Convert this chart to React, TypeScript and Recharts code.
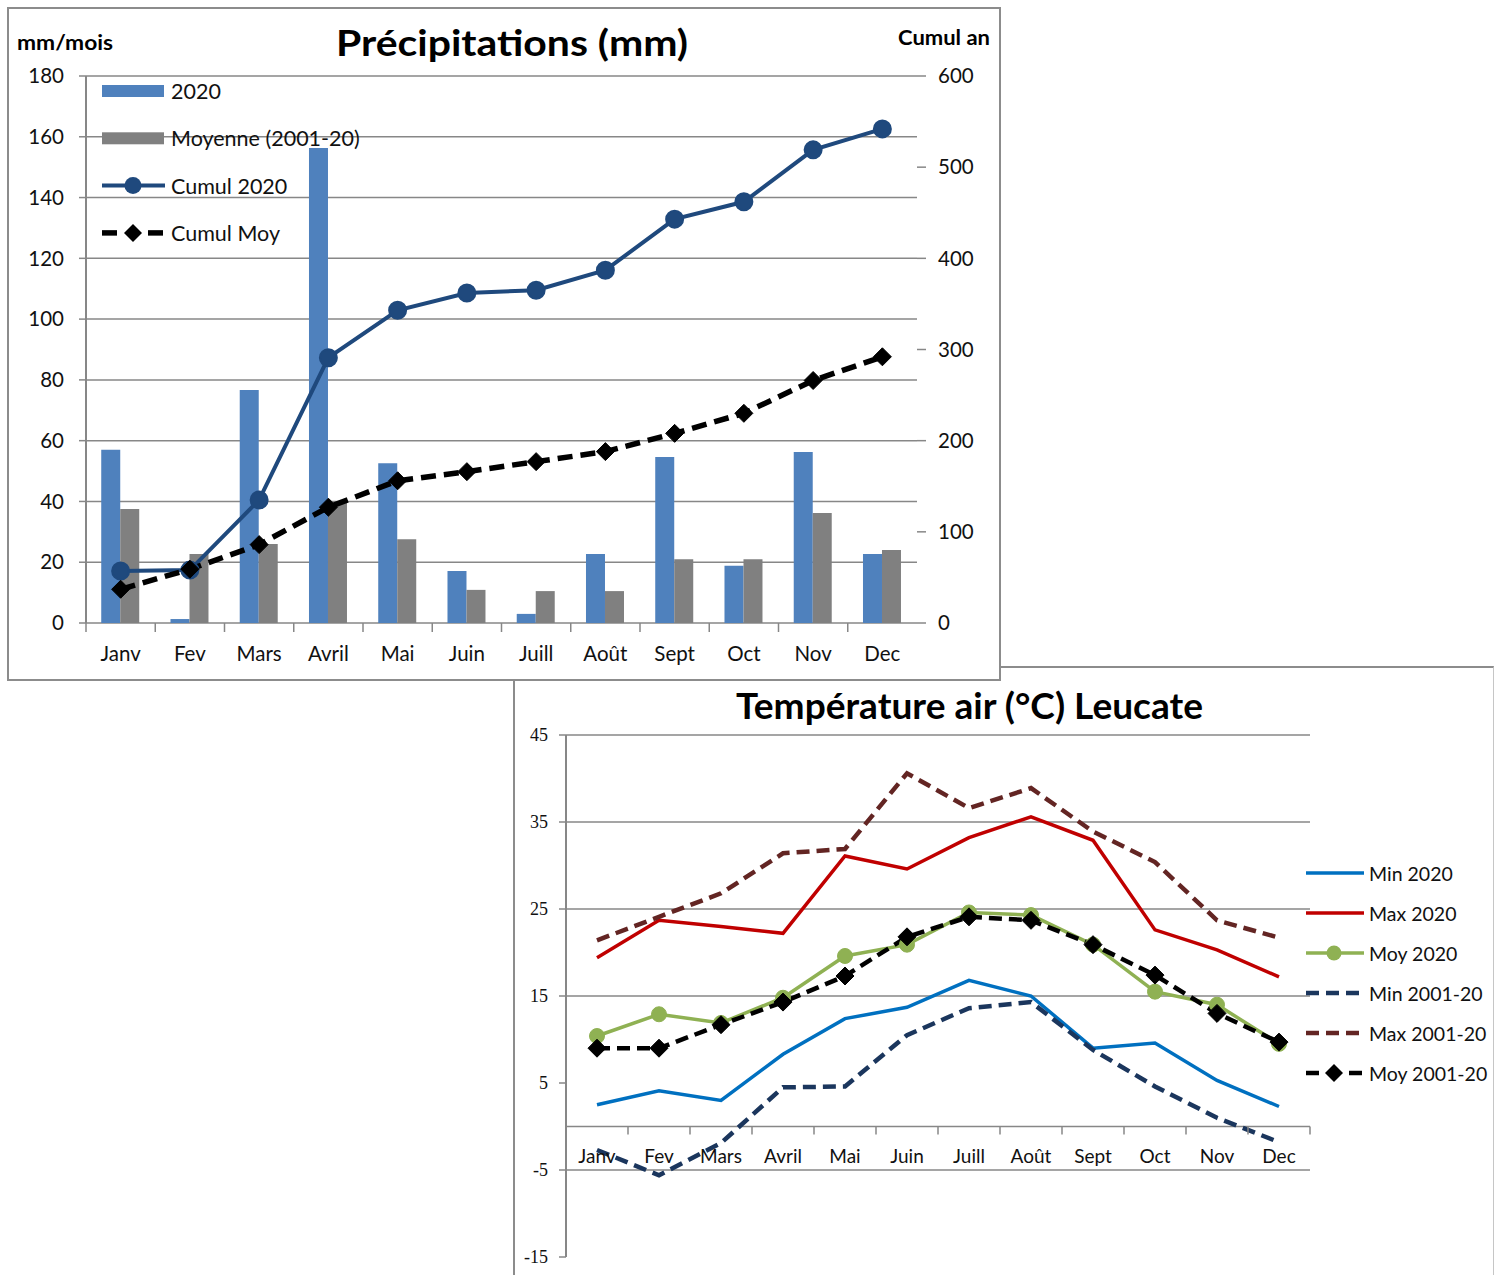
import React from "react";
import { ComposedChart, Bar, Line, XAxis, YAxis, CartesianGrid, ReferenceLine } from "recharts";

// ---- data ----
const MONTHS = ["Janv", "Fev", "Mars", "Avril", "Mai", "Juin", "Juill", "Août", "Sept", "Oct", "Nov", "Dec"];

// précipitations (mm/mois) et cumuls (mm)
const PLUIE_2020 = [57, 1.3, 76.7, 156.3, 52.6, 17.1, 3, 22.7, 54.6, 18.8, 56.3, 22.7];
const PLUIE_MOY = [37.5, 22.7, 26, 39.5, 27.6, 10.9, 10.5, 10.5, 21, 21, 36.2, 24];
const CUMUL_2020 = [57, 58, 135, 291, 343, 362, 365, 387, 443, 462, 519, 542];
const CUMUL_MOY = [37, 59, 86, 127, 156, 166, 177, 188, 208, 230, 266, 292];
const PLUIE_TICKS = [0, 20, 40, 60, 80, 100, 120, 140, 160, 180];
const CUMUL_TICKS = [0, 100, 200, 300, 400, 500, 600];

// températures (°C)
const MIN_2020 = [2.5, 4.1, 3.0, 8.3, 12.4, 13.7, 16.8, 15.0, 9.0, 9.6, 5.3, 2.3];
const MAX_2020 = [19.4, 23.7, 23.0, 22.2, 31.1, 29.6, 33.2, 35.6, 32.9, 22.6, 20.3, 17.2];
const MOY_2020 = [10.4, 12.9, 11.9, 14.8, 19.6, 20.9, 24.6, 24.3, 20.9, 15.5, 14.0, 9.5];
const MIN_0120 = [-2.7, -5.6, -1.9, 4.5, 4.6, 10.5, 13.6, 14.3, 8.8, 4.6, 1.0, -1.8];
const MAX_0120 = [21.4, 24.1, 26.8, 31.4, 31.9, 40.6, 36.6, 38.9, 33.9, 30.4, 23.7, 21.7];
const MOY_0120 = [9.0, 9.0, 11.7, 14.3, 17.3, 21.8, 24.1, 23.7, 20.9, 17.4, 13.0, 9.7];
const TEMP_TICKS = [-15, -5, 5, 15, 25, 35, 45];
const TEMP_GRID = [45, 35, 25, 15, -5];

const pluieData = MONTHS.map((m, i) => ({
  month: m,
  p2020: PLUIE_2020[i],
  pMoy: PLUIE_MOY[i],
  c2020: CUMUL_2020[i],
  cMoy: CUMUL_MOY[i],
}));

const tempData = MONTHS.map((m, i) => ({
  month: m,
  min2020: MIN_2020[i],
  max2020: MAX_2020[i],
  moy2020: MOY_2020[i],
  min0120: MIN_0120[i],
  max0120: MAX_0120[i],
  moy0120: MOY_0120[i],
}));

// ---- style ----
const FONT = "Lato, 'Open Sans', sans-serif";
const GRID = "#878787";

const TEMP_SERIES = [
  { key: "min2020", name: "Min 2020", color: "#0070C0", dash: undefined, marker: "none" },
  { key: "max2020", name: "Max 2020", color: "#C00000", dash: undefined, marker: "none" },
  { key: "moy2020", name: "Moy 2020", color: "#8FB153", dash: undefined, marker: "circle" },
  { key: "min0120", name: "Min 2001-20", color: "#1B365D", dash: "13 7", marker: "none" },
  { key: "max0120", name: "Max 2001-20", color: "#632523", dash: "13 7", marker: "none" },
  { key: "moy0120", name: "Moy 2001-20", color: "#000000", dash: "13 7", marker: "diamond" },
];

// precipitation chart geometry (inside its frame)
const P_W = 990;
const P_H = 670;
const P_TOP = 67;
const P_LEFT_W = 77;
const P_RIGHT_W = 82;
const P_XAXIS_H = 56;
const P_BAND = (P_W - P_LEFT_W - P_RIGHT_W) / MONTHS.length;

// temperature chart geometry
const T_W = 978;
const T_H = 607;
const T_TOP = 67;
const T_LEFT_W = 51;
const T_RIGHT = 183;
const T_XAXIS_H = 18;
const T_MIN = -15;
const T_MAX = 45;
const T_PLOT_H = T_H - T_TOP - T_XAXIS_H;
const T_BAND = (T_W - T_LEFT_W - T_RIGHT) / MONTHS.length;

function diamondPath(cx: number, cy: number, s: number) {
  return `M${cx} ${cy - s} L${cx + s} ${cy} L${cx} ${cy + s} L${cx - s} ${cy} Z`;
}

function DiamondDot(props: any) {
  const { cx, cy } = props;
  if (cx == null || cy == null) return null;
  return <path d={diamondPath(cx, cy, 9)} fill="#000" stroke="#000" strokeWidth={1} />;
}

function PluieMonthTick(props: any) {
  const { x, y, payload } = props;
  const bx = x - P_BAND / 2;
  return (
    <g>
      <line x1={bx} x2={bx} y1={y} y2={y + 9} stroke={GRID} strokeWidth={1.5} />
      <text x={x} y={y + 38} textAnchor="middle" fontSize={20.5} fontFamily={FONT} fill="#111">
        {payload.value}
      </text>
    </g>
  );
}

function TempMonthTick(props: any) {
  const { x, y, payload } = props;
  // the category axis crosses the value axis at 0
  const zeroY = y - (T_PLOT_H * (0 - T_MIN)) / (T_MAX - T_MIN);
  const bx = x - T_BAND / 2;
  const last = payload.value === MONTHS[MONTHS.length - 1];
  return (
    <g>
      <line x1={bx} x2={bx} y1={zeroY} y2={zeroY + 8} stroke={GRID} strokeWidth={1.5} />
      {last && <line x1={x + T_BAND / 2} x2={x + T_BAND / 2} y1={zeroY} y2={zeroY + 8} stroke={GRID} strokeWidth={1.5} />}
      <text x={x} y={zeroY + 36} textAnchor="middle" fontSize={19} fontFamily={FONT} fill="#111">
        {payload.value}
      </text>
    </g>
  );
}

function PluieChart() {
  return (
    <ComposedChart
      width={P_W}
      height={P_H}
      data={pluieData}
      margin={{ top: P_TOP, right: 0, bottom: 0, left: 0 }}
      barCategoryGap="22%"
      barGap={0}
    >
      <CartesianGrid vertical={false} stroke={GRID} strokeWidth={1.5} yAxisId="left" />
      <XAxis
        dataKey="month"
        height={P_XAXIS_H}
        interval={0}
        axisLine={false}
        tickLine={false}
        tickSize={0}
        tickMargin={0}
        tick={<PluieMonthTick />}
      />
      <YAxis
        yAxisId="left"
        width={P_LEFT_W}
        domain={[0, 180]}
        ticks={PLUIE_TICKS}
        interval={0}
        axisLine={{ stroke: GRID, strokeWidth: 2 }}
        tickLine={{ stroke: GRID, strokeWidth: 1.5 }}
        tickSize={7}
        tickMargin={15}
        tick={{ fontSize: 20.5, fontFamily: FONT, fill: "#111" }}
      />
      <YAxis
        yAxisId="right"
        orientation="right"
        width={P_RIGHT_W}
        domain={[0, 600]}
        ticks={CUMUL_TICKS}
        interval={0}
        axisLine={false}
        tickLine={{ stroke: GRID, strokeWidth: 1.5 }}
        tickSize={9}
        tickMargin={12}
        tick={{ fontSize: 20.5, fontFamily: FONT, fill: "#111", textAnchor: "start" }}
      />
      <Bar yAxisId="left" dataKey="p2020" fill="#4F81BD" isAnimationActive={false} />
      <Bar yAxisId="left" dataKey="pMoy" fill="#808080" isAnimationActive={false} />
      <Line
        yAxisId="right"
        dataKey="c2020"
        stroke="#1F497D"
        strokeWidth={4}
        dot={{ r: 8.5, fill: "#1F497D", stroke: "#1F497D", strokeWidth: 2 }}
        activeDot={false}
        isAnimationActive={false}
      />
      <Line
        yAxisId="right"
        dataKey="cMoy"
        stroke="#000"
        strokeWidth={5.5}
        strokeDasharray="15 8"
        dot={<DiamondDot />}
        activeDot={false}
        isAnimationActive={false}
      />
    </ComposedChart>
  );
}

function TempChart() {
  return (
    <ComposedChart
      width={T_W}
      height={T_H}
      data={tempData}
      margin={{ top: T_TOP, right: T_RIGHT, bottom: 0, left: 0 }}
    >
      {TEMP_GRID.map((v) => (
        <ReferenceLine key={v} y={v} stroke={GRID} strokeWidth={1.5} />
      ))}
      <ReferenceLine y={0} stroke={GRID} strokeWidth={1.5} />
      <XAxis
        dataKey="month"
        scale="band"
        height={T_XAXIS_H}
        interval={0}
        axisLine={false}
        tickLine={false}
        tickSize={0}
        tickMargin={0}
        tick={<TempMonthTick />}
      />
      <YAxis
        width={T_LEFT_W}
        domain={[T_MIN, T_MAX]}
        ticks={TEMP_TICKS}
        interval={0}
        axisLine={{ stroke: GRID, strokeWidth: 2 }}
        tickLine={{ stroke: GRID, strokeWidth: 1.5 }}
        tickSize={7}
        tickMargin={11}
        tick={{ fontSize: 18, fontFamily: "'Liberation Serif', serif", fill: "#111" }}
      />
      {TEMP_SERIES.map((s) => (
        <Line
          key={s.key}
          dataKey={s.key}
          stroke={s.color}
          strokeWidth={s.dash ? 4.5 : 3.5}
          strokeDasharray={s.dash}
          dot={
            s.marker === "circle"
              ? { r: 7.5, fill: s.color, stroke: s.color, strokeWidth: 1 }
              : s.marker === "diamond"
              ? <DiamondDot />
              : false
          }
          activeDot={false}
          isAnimationActive={false}
        />
      ))}
    </ComposedChart>
  );
}

function PluieOverlay() {
  const items = [
    { name: "2020", type: "bar", color: "#4F81BD" },
    { name: "Moyenne (2001-20)", type: "bar", color: "#808080" },
    { name: "Cumul 2020", type: "circle", color: "#1F497D" },
    { name: "Cumul Moy", type: "diamond", color: "#000" },
  ];
  return (
    <svg width={1000} height={680} style={{ position: "absolute", left: 0, top: 0, pointerEvents: "none" }}>
      <text x={336} y={56} textLength={352} lengthAdjust="spacingAndGlyphs" fontSize={37} fontWeight={700} fontFamily={FONT} fill="#000">
        Précipitations (mm)
      </text>
      <text x={17} y={50} textLength={96} lengthAdjust="spacingAndGlyphs" fontSize={20} fontWeight={700} fontFamily={FONT} fill="#000">
        mm/mois
      </text>
      <text x={898} y={45} textLength={92} lengthAdjust="spacingAndGlyphs" fontSize={20} fontWeight={700} fontFamily={FONT} fill="#000">
        Cumul an
      </text>
      {items.map((it, i) => {
        const cy = 91 + i * 47.3;
        return (
          <g key={it.name}>
            {it.type === "bar" && <rect x={102} y={cy - 6} width={62} height={12} fill={it.color} />}
            {it.type === "circle" && (
              <g>
                <line x1={102} x2={165} y1={cy} y2={cy} stroke={it.color} strokeWidth={4} />
                <circle cx={133} cy={cy} r={8.5} fill={it.color} />
              </g>
            )}
            {it.type === "diamond" && (
              <g>
                <line x1={102} x2={117} y1={cy} y2={cy} stroke="#000" strokeWidth={5.5} />
                <line x1={148} x2={163} y1={cy} y2={cy} stroke="#000" strokeWidth={5.5} />
                <path d={diamondPath(133, cy, 9)} fill="#000" />
              </g>
            )}
            <text x={171} y={cy} dominantBaseline="central" fontSize={21.5} fontFamily={FONT} fill="#111">
              {it.name}
            </text>
          </g>
        );
      })}
    </svg>
  );
}

function TempOverlay() {
  return (
    <svg width={1498} height={1275} style={{ position: "absolute", left: 0, top: 0, pointerEvents: "none" }}>
      <text x={736} y={719} textLength={467} lengthAdjust="spacingAndGlyphs" fontSize={37} fontWeight={700} fontFamily={FONT} fill="#000">
        Température air (°C) Leucate
      </text>
      {TEMP_SERIES.map((s, i) => {
        const cy = 873 + i * 40;
        return (
          <g key={s.key}>
            {s.marker === "diamond" ? (
              <g>
                <line x1={1306} x2={1319} y1={cy} y2={cy} stroke={s.color} strokeWidth={4.5} />
                <line x1={1349} x2={1362} y1={cy} y2={cy} stroke={s.color} strokeWidth={4.5} />
                <path d={diamondPath(1334, cy, 9)} fill={s.color} />
              </g>
            ) : (
              <line
                x1={1306}
                x2={1364}
                y1={cy}
                y2={cy}
                stroke={s.color}
                strokeWidth={s.dash ? 4.5 : 3.5}
                strokeDasharray={s.dash}
              />
            )}
            {s.marker === "circle" && <circle cx={1334} cy={cy} r={7.5} fill={s.color} />}
            <text x={1369} y={cy} dominantBaseline="central" fontSize={19.5} fontFamily={FONT} fill="#111">
              {s.name}
            </text>
          </g>
        );
      })}
    </svg>
  );
}

export default function App() {
  return (
    <div style={{ position: "absolute", left: 0, top: 0, width: 1498, height: 1275, overflow: "hidden", background: "#fff", fontFamily: FONT }}>
      <div
        style={{
          position: "absolute",
          left: 513,
          top: 666,
          width: 981,
          height: 640,
          boxSizing: "border-box",
          borderTop: "2px solid #8c8c8c",
          borderLeft: "2px solid #8c8c8c",
          borderRight: "1px solid #c6c6c6",
          background: "#fff",
        }}
      >
        <div style={{ position: "absolute", left: 0, top: 0 }}>
          <TempChart />
        </div>
      </div>
      <TempOverlay />
      <div
        style={{
          position: "absolute",
          left: 7,
          top: 7,
          width: 994,
          height: 674,
          boxSizing: "border-box",
          border: "2px solid #8c8c8c",
          background: "#fff",
        }}
      >
        <div style={{ position: "absolute", left: 0, top: 0 }}>
          <PluieChart />
        </div>
      </div>
      <PluieOverlay />
    </div>
  );
}
